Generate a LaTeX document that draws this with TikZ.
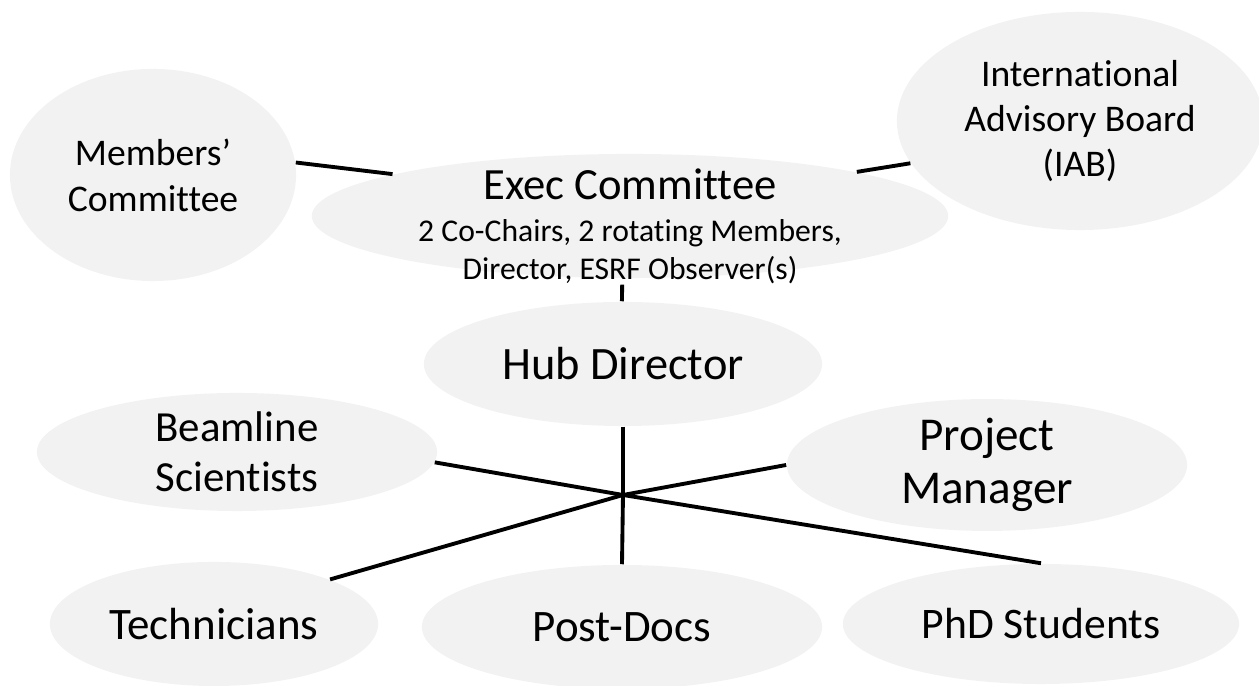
\documentclass[tikz,border=0pt]{standalone}
\usepackage{fontspec}
\setmainfont{Carlito}[Ligatures={TeX,NoCommon}]
\usetikzlibrary{shapes.geometric}
\definecolor{bubblegray}{HTML}{F2F2F2}

\begin{document}
\begin{tikzpicture}[x=0.01cm, y=-0.01cm,
    bubble/.style={ellipse, fill=bubblegray, inner sep=0pt, align=center},
    link/.style={line width=1.1pt}]
    \useasboundingbox (0,0) rectangle (1259,686);

    \node[bubble, minimum width=2.86cm, minimum height=2.12cm,
          font=\fontsize{10.7}{13.1}\selectfont] (mem) at (153,175) {Members’\\Committee};
    \node[bubble, minimum width=3.66cm, minimum height=2.18cm,
          font=\fontsize{10.7}{12.8}\selectfont] (iab) at (1080,121) {International\\Advisory Board\\(IAB)};
    \node[bubble, minimum width=6.36cm, minimum height=1.24cm] (exec) at (630,216) {};
    \node[align=center, inner sep=0pt, font=\fontsize{9}{10.8}\selectfont] (exectext) at (630,226)
        {{\fontsize{12.7}{14}\selectfont Exec Committee}\\[1.2pt]
         2 Co-Chairs, 2 rotating Members,\\Director, ESRF Observer(s)};
    \node[bubble, minimum width=3.98cm, minimum height=1.24cm,
          font=\fontsize{13.2}{15}\selectfont] (hub) at (623,364) {Hub Director};
    \node[bubble, minimum width=4.00cm, minimum height=1.18cm,
          font=\fontsize{12.2}{14.2}\selectfont] (beam) at (237,452) {Beamline\\Scientists};
    \node[bubble, minimum width=4.00cm, minimum height=1.20cm,
          font=\fontsize{13.4}{15}\selectfont] (pm) at (987,465) {Project\\Manager};
    \node[bubble, minimum width=3.28cm, minimum height=1.24cm,
          font=\fontsize{12.8}{15}\selectfont] (tech) at (214,624) {Technicians};
    \node[bubble, minimum width=4.00cm, minimum height=1.24cm,
          font=\fontsize{12.8}{15}\selectfont] (post) at (622,627) {Post-Docs};
    \node[bubble, minimum width=3.96cm, minimum height=1.20cm,
          font=\fontsize{12.4}{15}\selectfont] (phd) at (1041,624) {PhD Students};

    \coordinate (mid) at (623,495);

    \draw[link] (mem.5) -- (exec.170);
    \draw[link] (exec.11) -- (iab.194);
    \draw[link, shorten <=0.06cm] (exec.263) -- (hub.91);
    \draw[link] (hub.south) -- (mid);
    \draw[link] (mid) -- (post.north);
    \draw[link] (beam.-3) -- (mid) -- (phd.north);
    \draw[link] (pm.west) -- (mid) -- (tech.21);
\end{tikzpicture}
\end{document}
